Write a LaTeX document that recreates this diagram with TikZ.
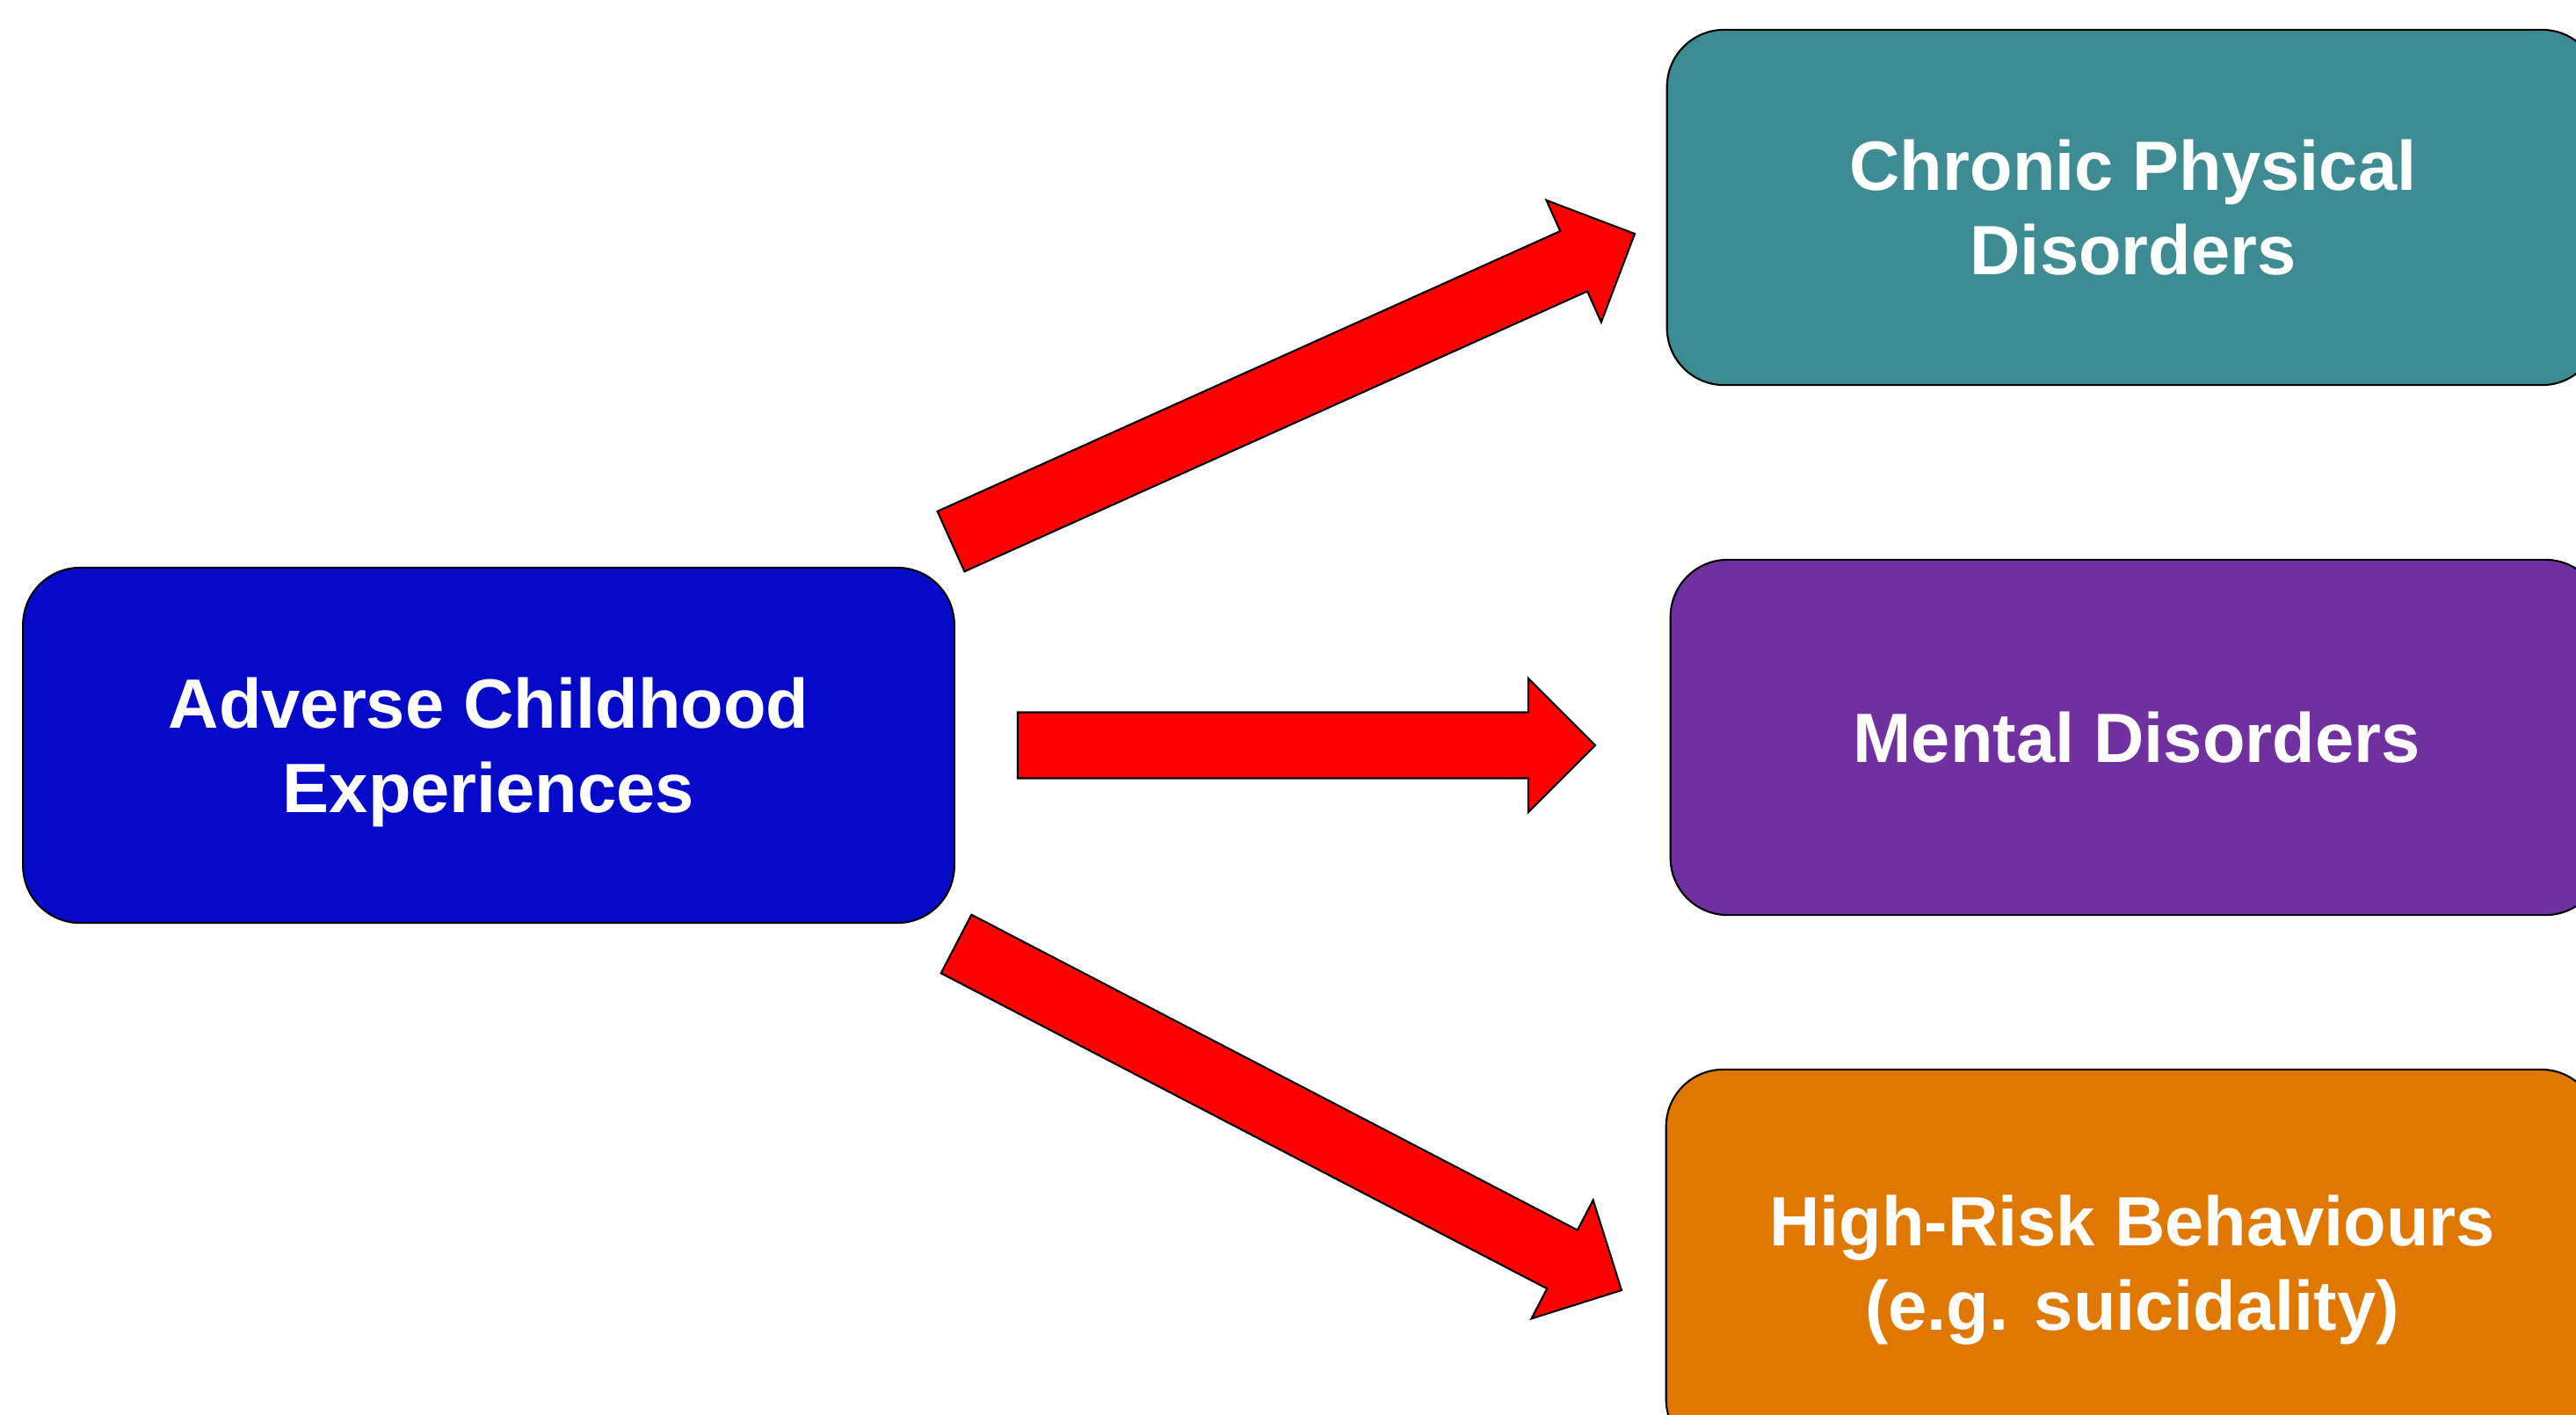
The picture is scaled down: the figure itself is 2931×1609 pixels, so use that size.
\documentclass[tikz,border=0pt]{standalone}
\usepackage{fontspec}
\setmainfont{Liberation Sans}
\usepackage{xcolor}
\usetikzlibrary{calc}
\definecolor{aceblue}{RGB}{5,10,200}
\definecolor{physteal}{RGB}{62,140,147}
\definecolor{mentpurple}{RGB}{112,48,160}
\definecolor{riskorange}{RGB}{224,120,0}

\tikzset{
  box/.style={draw=black, line width=0.6pt, rounded corners=0.65cm,
    text=white, font=\fontsize{22.6}{27.2}\selectfont\bfseries, align=center,
    minimum width=10.6cm, minimum height=4.04cm, inner sep=0pt, text depth=0pt},
  bigarrow/.style={draw=black, line width=0.6pt, fill=red, line join=miter}
}
\newcommand{\blockarrow}[2]{%
  \draw[bigarrow] ($(#1)!0.375cm!90:(#2)$)
    -- ($($(#2)!0.76cm!(#1)$)!0.375cm!90:(#2)$)
    -- ($($(#2)!0.76cm!(#1)$)!0.76cm!90:(#2)$)
    -- (#2)
    -- ($($(#2)!0.76cm!(#1)$)!0.76cm!-90:(#2)$)
    -- ($($(#2)!0.76cm!(#1)$)!0.375cm!-90:(#2)$)
    -- ($(#1)!0.375cm!-90:(#2)$) -- cycle;}

\begin{document}
\begin{tikzpicture}[x=0.01cm, y=-0.01cm]
  \useasboundingbox (0,0) rectangle (2931,1609);
  \clip (0,0) rectangle (2931,1609);
  \fill[white] (0,0) rectangle (2931,1609);

  \node[box, fill=aceblue, minimum width=10.59cm] (ace) at (556,848) {Adverse Childhood\\Experiences};
  \node[box, fill=physteal] (phys) at (2427,236) {Chronic Physical\\Disorders};
  \node[box, fill=mentpurple] (mental) at (2431,839) {Mental Disorders};
  \node[box, fill=riskorange, minimum height=4.4cm] (risk) at (2426,1437) {High-Risk Behaviours\\(e.g. suicidality)};

  \coordinate (up1) at (1082,616);
  \coordinate (up2) at (1860,266);
  \coordinate (mid1) at (1158,848);
  \coordinate (mid2) at (1815,848);
  \coordinate (low1) at (1088,1074);
  \coordinate (low2) at (1845,1468);
  \blockarrow{up1}{up2}
  \blockarrow{mid1}{mid2}
  \blockarrow{low1}{low2}
\end{tikzpicture}
\end{document}
